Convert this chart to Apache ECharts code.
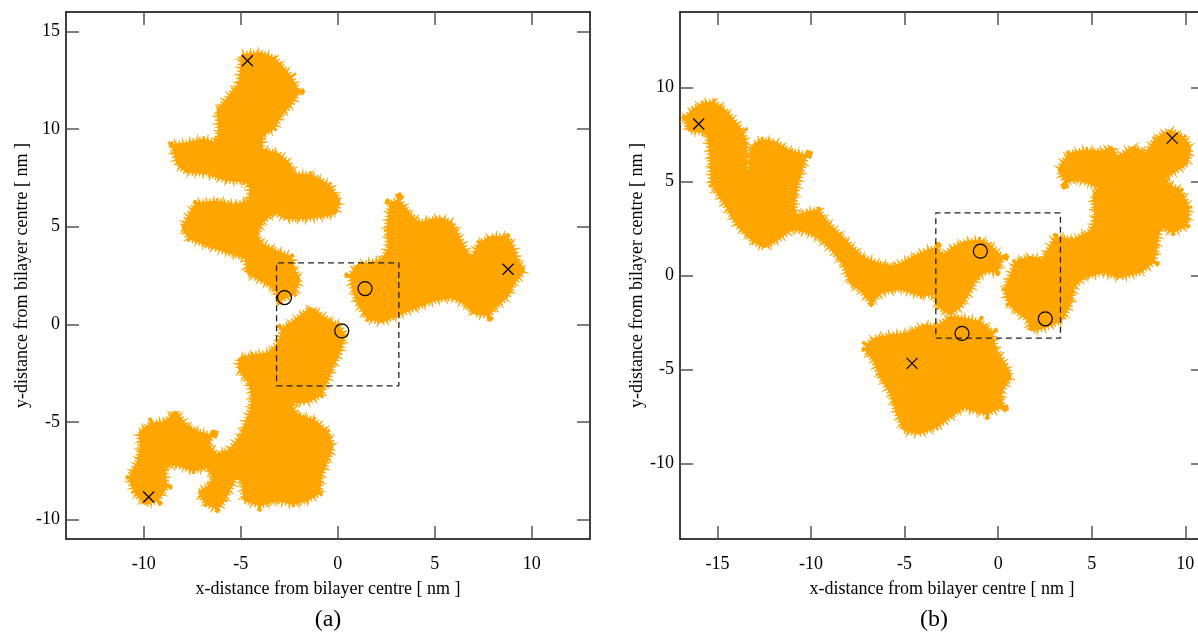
<!DOCTYPE html>
<html>
<head>
<meta charset="utf-8">
<script src="https://cdn.jsdelivr.net/npm/echarts@6/dist/echarts.min.js"></script>
<style>
  html, body { margin: 0; padding: 0; background: #fff; overflow: hidden; }
  #chart { width: 1210px; height: 635px; }
</style>
</head>
<body>
<div id="chart"></div>
<script>
// ---- panel (a): regions covered by each lipid trajectory [nm] ----
const aUpper = [
  [-4.89, 13.76], [-4.0, 13.85], [-3.31, 13.59], [-2.45, 12.65], [-2.08, 11.93], [-2.45, 11.28],
  [-2.97, 10.77], [-3.31, 10.09], [-3.91, 9.74], [-4.0, 8.89], [-3.14, 8.72], [-2.54, 8.21],
  [-2.28, 7.61], [-1.42, 7.61], [-0.48, 7.09], [0.03, 6.32], [-0.14, 5.73], [-0.57, 5.64],
  [-1.6, 5.47], [-2.62, 5.47], [-3.31, 5.81], [-3.9, 5.3], [-4.25, 4.62], [-4.0, 4.1],
  [-3.14, 3.68], [-2.45, 3.42], [-2.28, 2.74], [-2.02, 2.31], [-2.28, 1.62], [-2.97, 1.28],
  [-3.14, 1.8], [-3.65, 2.14], [-4.6, 2.65], [-4.68, 3.42], [-5.71, 3.76], [-6.74, 4.1],
  [-7.6, 4.44], [-7.94, 4.96], [-7.77, 5.3], [-7.26, 6.15], [-6.2, 6.24], [-5.2, 6.05],
  [-4.5, 6.3], [-4.45, 7.1], [-4.68, 7.35], [-5.71, 7.44], [-6.74, 7.78], [-7.77, 7.86],
  [-8.2, 8.2], [-8.46, 9.15], [-7.77, 9.23], [-6.9, 9.4], [-6.2, 9.23], [-6.05, 9.91],
  [-6.14, 10.94], [-5.71, 11.45], [-5.03, 12.31], [-4.94, 12.99]
];
const aRight = [
  [3.12, 6.32], [3.64, 5.64], [4.15, 5.13], [4.84, 5.3], [5.35, 5.38], [5.87, 5.13],
  [6.2, 4.44], [6.55, 3.76], [6.9, 3.25], [7.32, 4.1], [7.93, 4.44], [8.7, 4.44],
  [9.04, 3.85], [9.22, 3.16], [9.55, 2.82], [9.47, 2.65], [9.04, 2.14], [8.7, 1.45],
  [8.1, 0.94], [7.75, 0.51], [7.07, 0.6], [6.55, 1.11], [5.87, 1.45], [5.0, 1.28],
  [4.32, 1.03], [3.46, 0.68], [3.04, 0.51], [2.26, 0.17], [1.58, 0.34], [1.06, 1.11],
  [0.81, 1.97], [0.72, 2.48], [1.06, 2.99], [1.58, 3.08], [2.35, 3.25], [2.69, 3.93],
  [2.6, 4.79], [2.69, 5.64], [2.78, 6.15]
];
const aLower = [
  [0.03, -0.09], [0.29, -0.6], [0.03, -1.45], [-0.31, -2.14], [-0.57, -2.82], [-0.91, -3.59],
  [-1.6, -3.93], [-2.28, -3.93], [-2.45, -4.19], [-2.11, -4.7], [-1.25, -4.96], [-0.57, -5.56],
  [-0.31, -6.24], [-0.57, -6.92], [-0.91, -7.78], [-1.0, -8.63], [-1.6, -8.97], [-2.28, -9.15],
  [-3.14, -8.97], [-4.0, -9.23], [-4.77, -8.97], [-4.85, -8.12], [-5.2, -7.61], [-5.54, -8.29],
  [-5.88, -8.97], [-6.23, -9.4], [-6.74, -9.15], [-7.09, -8.63], [-6.57, -8.29], [-6.31, -7.78],
  [-6.74, -7.26], [-7.43, -7.44], [-7.94, -7.26], [-8.63, -7.09], [-8.97, -7.44], [-8.88, -8.29],
  [-9.31, -8.97], [-9.91, -9.15], [-10.43, -8.55], [-10.69, -7.86], [-10.26, -7.09], [-10.09, -6.24],
  [-10.17, -5.56], [-9.57, -5.13], [-8.8, -5.04], [-8.37, -4.53], [-7.86, -5.21], [-7.26, -5.56],
  [-6.57, -5.73], [-6.74, -6.24], [-6.23, -6.75], [-5.54, -6.5], [-4.94, -5.73], [-4.68, -5.04],
  [-4.43, -4.36], [-4.34, -3.68], [-4.51, -2.99], [-5.03, -2.31], [-5.03, -1.79], [-4.34, -1.62],
  [-3.48, -1.54], [-2.97, -0.94], [-2.8, -0.26], [-2.28, 0.09], [-1.6, 0.6], [-1.34, 0.77],
  [-0.91, 0.43], [-0.39, 0.09]
];
const aStarts = [[-4.65, 13.5], [8.78, 2.82], [-9.74, -8.85]];
const aEnds = [[-2.74, 1.37], [1.41, 1.83], [0.21, -0.34]];
const aBox = 3.15;

// ---- panel (b) ----
const bUpper = [
  [-16.66, 8.36], [-16.21, 8.81], [-15.77, 9.07], [-15.24, 9.16], [-14.7, 8.81], [-14.25, 8.28],
  [-13.72, 7.66], [-13.5, 6.95], [-13.54, 6.06], [-13.45, 5.44], [-13.22, 5.53], [-13.15, 6.6],
  [-13.0, 6.95], [-12.56, 7.13], [-11.94, 7.04], [-11.23, 6.6], [-10.34, 6.33], [-10.52, 5.71],
  [-10.79, 4.83], [-10.96, 3.77], [-10.88, 3.06], [-10.16, 3.32], [-9.63, 3.41], [-9.27, 2.88],
  [-8.74, 2.35], [-8.2, 1.82], [-7.31, 0.94], [-6.42, 0.58], [-5.54, 0.41], [-4.47, 0.94],
  [-3.76, 1.29], [-3.3, 1.38], [-2.95, 0.94], [-2.33, 1.47], [-1.7, 1.73], [-0.99, 1.82],
  [-0.54, 1.64], [0.17, 0.94], [-0.1, 0.23], [-0.63, 0.32], [-1.17, -0.04], [-1.52, -0.74],
  [-2.06, -1.63], [-2.59, -1.98], [-3.12, -1.63], [-3.4, -0.92], [-4.11, -1.01], [-5.18, -0.65],
  [-6.25, -0.83], [-6.78, -1.36], [-7.31, -0.74], [-7.84, -0.39], [-8.2, 0.58], [-8.74, 1.29],
  [-9.45, 1.99], [-10.16, 2.35], [-11.05, 2.53], [-11.76, 2.0], [-12.48, 1.56], [-13.0, 1.82],
  [-13.9, 2.71], [-14.52, 3.77], [-15.24, 4.83], [-15.32, 6.42], [-15.5, 7.66], [-16.48, 7.75]
];
const bRight = [
  [3.29, 5.62], [3.82, 6.42], [4.71, 6.6], [5.6, 6.51], [6.04, 6.77], [6.31, 6.15],
  [7.2, 6.77], [7.92, 6.42], [8.45, 7.21], [9.16, 7.66], [9.87, 7.3], [10.22, 6.77],
  [10.04, 5.98], [9.34, 5.53], [8.8, 5.18], [9.16, 4.74], [9.7, 4.47], [10.13, 3.59],
  [10.04, 2.71], [9.34, 2.35], [8.63, 2.71], [8.45, 1.82], [8.27, 0.76], [7.56, 0.23],
  [6.49, -0.04], [5.6, 0.23], [4.53, -0.04], [4.0, -0.57], [3.82, -1.45], [3.37, -2.33],
  [2.75, -2.6], [2.22, -2.78], [1.77, -2.86], [1.68, -2.33], [1.06, -1.89], [0.61, -1.45],
  [0.43, -0.74], [0.7, -0.04], [0.97, 0.67], [1.68, 0.94], [2.4, 0.76], [3.11, 2.0],
  [4.0, 1.82], [5.07, 2.35], [5.24, 3.24], [5.15, 4.3], [5.6, 4.65], [4.89, 4.95],
  [4.18, 5.18], [3.64, 5.0]
];
const bLower = [
  [-6.95, -3.75], [-6.6, -3.4], [-5.71, -3.22], [-4.82, -3.13], [-3.93, -2.69], [-3.21, -2.78],
  [-2.86, -2.51], [-2.59, -2.25], [-1.88, -2.33], [-0.99, -2.51], [-0.37, -3.04], [-0.19, -3.93],
  [0.35, -4.81], [0.61, -5.34], [0.08, -6.22], [0.17, -6.93], [-0.63, -7.29], [-1.34, -7.11],
  [-1.88, -6.93], [-2.59, -7.46], [-3.3, -7.99], [-4.28, -8.35], [-4.99, -8.17], [-5.35, -7.29],
  [-5.71, -6.22], [-6.25, -5.34], [-6.6, -4.46], [-7.04, -3.93]
];
const bStarts = [[-16.0, 8.05], [9.3, 7.3], [-4.6, -4.67]];
const bEnds = [[-0.95, 1.29], [2.52, -2.3], [-1.93, -3.08]];
const bBox = 3.33;

// axis ranges and tick labels
const aXRange = [-14, 13];
const aYRange = [-11, 16];
const bXRange = [-17, 11];
const bYRange = [-14, 14];
const aXTicks = [-10, -5, 0, 5, 10];
const aYTicks = [-10, -5, 0, 5, 10, 15];
const bXTicks = [-15, -10, -5, 0, 5, 10];
const bYTicks = [-10, -5, 0, 5, 10];

const ORANGE = '#ffa500';
const FONT = 'Liberation Serif';
const xName = 'x-distance from bilayer centre [ nm ]';
const yName = 'y-distance from bilayer centre [ nm ]';

function axis(range, ticks, gridIndex, position, opts) {
  const horizontal = position === 'bottom' || position === 'top';
  const showLabel = position === 'bottom' || position === 'left';
  return Object.assign({
    type: 'value',
    gridIndex,
    position,
    min: range[0],
    max: range[1],
    axisLine: { show: true, onZero: false, lineStyle: { color: '#000', width: 1.5 } },
    axisTick: { show: true, inside: true, length: 13, customValues: ticks, lineStyle: { color: '#555', width: 1.5 } },
    axisLabel: {
      show: showLabel, customValues: ticks, fontFamily: FONT, fontSize: 18, color: '#000',
      margin: horizontal ? 16 : 6
    },
    splitLine: { show: false },
    nameTextStyle: { fontFamily: FONT, fontSize: 18, color: '#000' }
  }, opts || {});
}

function blob(pts, idx) {
  return {
    type: 'custom',
    xAxisIndex: idx * 2,
    yAxisIndex: idx * 2,
    data: pts,
    clip: true,
    silent: true,
    z: 1,
    renderItem(params, api) {
      if (params.dataIndex !== 0) return;
      const points = pts.map(p => api.coord(p));
      return {
        type: 'group',
        children: [
          { type: 'polygon', shape: { points }, style: { fill: 'none', stroke: ORANGE, lineWidth: 14, lineDash: [1, 7] } },
          { type: 'polygon', shape: { points }, style: { fill: 'none', stroke: ORANGE, lineWidth: 9, lineDash: [1.5, 2] } },
          { type: 'polygon', shape: { points }, style: { fill: ORANGE, stroke: ORANGE, lineWidth: 4, lineJoin: 'round' } }
        ]
      };
    }
  };
}

function box(h, idx) {
  return {
    type: 'line',
    xAxisIndex: idx * 2,
    yAxisIndex: idx * 2,
    data: [[-h, -h], [h, -h], [h, h], [-h, h], [-h, -h]],
    showSymbol: false,
    silent: true,
    z: 3,
    lineStyle: { color: '#222', width: 1.3, type: [6, 4] }
  };
}

function marks(pts, idx, symbol, size) {
  return {
    type: 'scatter',
    xAxisIndex: idx * 2,
    yAxisIndex: idx * 2,
    data: pts,
    symbol,
    symbolSize: size,
    silent: true,
    z: 4,
    itemStyle: { color: 'rgba(0,0,0,0)', borderColor: '#000', borderWidth: 1.2, opacity: 1 }
  };
}

const CROSS = 'path://M0,0L10,10M10,0L0,10';

const chart = echarts.init(document.getElementById('chart'));
chart.setOption({
  animation: false,
  backgroundColor: '#fff',
  grid: [
    { left: 66, top: 12, width: 524, height: 527 },
    { left: 680, top: 12, width: 524, height: 527 }
  ],
  xAxis: [
    axis(aXRange, aXTicks, 0, 'bottom', { name: xName, nameLocation: 'middle', nameGap: 41 }),
    axis(aXRange, aXTicks, 0, 'top'),
    axis(bXRange, bXTicks, 1, 'bottom', { name: xName, nameLocation: 'middle', nameGap: 41 }),
    axis(bXRange, bXTicks, 1, 'top')
  ],
  yAxis: [
    axis(aYRange, aYTicks, 0, 'left', { name: yName, nameLocation: 'middle', nameGap: 35 }),
    axis(aYRange, aYTicks, 0, 'right'),
    axis(bYRange, bYTicks, 1, 'left', { name: yName, nameLocation: 'middle', nameGap: 33 }),
    axis(bYRange, bYTicks, 1, 'right')
  ],
  series: [
    blob(aUpper, 0), blob(aRight, 0), blob(aLower, 0),
    blob(bUpper, 1), blob(bRight, 1), blob(bLower, 1),
    box(aBox, 0), box(bBox, 1),
    marks(aStarts, 0, CROSS, 11), marks(aEnds, 0, 'circle', 14),
    marks(bStarts, 1, CROSS, 11), marks(bEnds, 1, 'circle', 14)
  ],
  graphic: [
    { type: 'text', x: 328, y: 620, style: { text: '(a)', font: '24px "Liberation Serif"', fill: '#000', align: 'center', verticalAlign: 'middle' } },
    { type: 'text', x: 934, y: 620, style: { text: '(b)', font: '24px "Liberation Serif"', fill: '#000', align: 'center', verticalAlign: 'middle' } }
  ]
});
</script>
</body>
</html>
